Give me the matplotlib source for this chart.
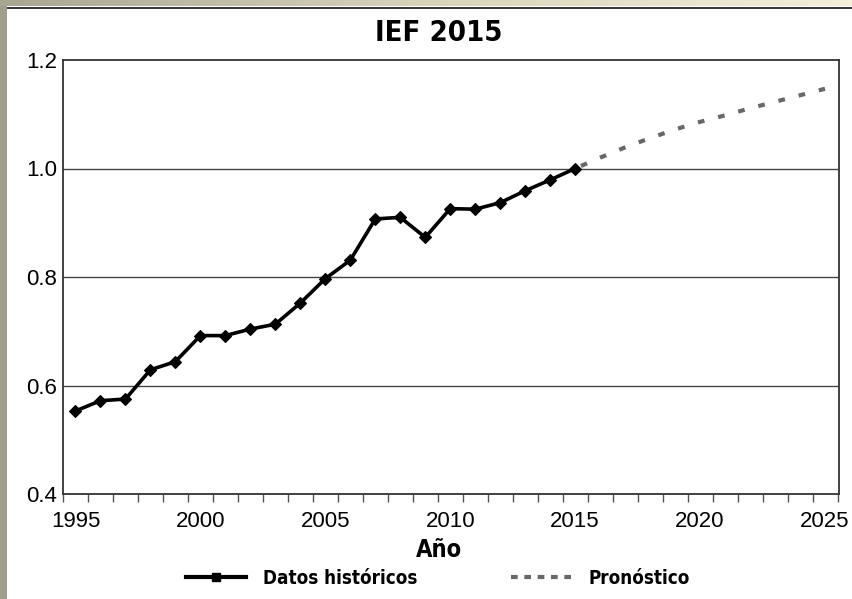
import numpy as np
import matplotlib
matplotlib.use('Agg')
import matplotlib.pyplot as plt
from matplotlib.lines import Line2D
from matplotlib.patches import Rectangle
from matplotlib import font_manager

# datos
years_hist = [1995, 1996, 1997, 1998, 1999, 2000, 2001, 2002, 2003, 2004, 2005,
              2006, 2007, 2008, 2009, 2010, 2011, 2012, 2013, 2014, 2015]
ief_hist = [0.553, 0.572, 0.575, 0.629, 0.644, 0.692, 0.692, 0.704, 0.713, 0.752, 0.797,
            0.831, 0.907, 0.910, 0.873, 0.926, 0.925, 0.937, 0.959, 0.979, 1.000]
years_fc = [2015, 2016, 2017, 2018, 2019, 2020, 2021, 2022, 2023, 2024, 2025]
ief_fc = [1.000, 1.020, 1.039, 1.056, 1.072, 1.086, 1.098, 1.111, 1.123, 1.135, 1.147]
year_labels = [1995, 2000, 2005, 2010, 2015, 2020, 2025]
y_ticks = [0.4, 0.6, 0.8, 1.0, 1.2]

plt.rcParams['font.family'] = ['Liberation Sans', 'DejaVu Sans']
# letra estrecha en negrita para titulo, eje y leyenda
narrow = font_manager.FontProperties(family='DejaVu Sans', stretch='condensed', weight='bold')

W, H = 852, 599
fig = plt.figure(figsize=(W / 100, H / 100), dpi=100, facecolor='white')

# marco de la captura (borde gris a la izquierda y arriba)
fig.patches.append(Rectangle((0, 0), 7 / W, 1, transform=fig.transFigure,
                             facecolor='#a19e8b', edgecolor='none', zorder=-5))
top = fig.add_axes([0, 1 - 6 / H, 1, 6 / H], zorder=-4)
grad = np.linspace(0, 1, 256).reshape(1, -1)
top.imshow(grad, aspect='auto', extent=[0, 1, 0, 1],
           cmap=matplotlib.colors.LinearSegmentedColormap.from_list('m', ['#a8a592', '#d8d4bc', '#f3efd8']))
top.axis('off')
fig.patches.append(Rectangle((7 / W, 1 - 8.5 / H), 1, 2 / H, transform=fig.transFigure,
                             facecolor='#3a3a3a', edgecolor='none', zorder=-3))

ax = fig.add_axes([63 / W, 1 - 494 / H, 776 / W, 434 / H])
ax.plot(years_hist, ief_hist, color='black', lw=2.6, marker='D', ms=6.3,
        markeredgewidth=0.8, zorder=3, solid_joinstyle='miter')
ax.plot(years_fc, ief_fc, color='#686868', lw=3, linestyle=(3.5, (1.6, 3.4)), zorder=2)

ax.set_xlim(1994.52, 2025.56)
ax.set_ylim(0.4, 1.2)
ax.set_yticks(y_ticks)
ax.set_yticklabels([f'{v:.1f}' for v in y_ticks])
ax.set_xticks(year_labels)
ax.set_xticklabels([str(y) for y in year_labels])
ax.set_xticks(np.arange(1994.5, 2025.6, 1.0), minor=True)
ax.tick_params(axis='x', which='major', length=0, pad=12, labelsize=16)
ax.tick_params(axis='x', which='minor', length=6, width=1, color='#555555', direction='out')
ax.tick_params(axis='y', length=0, pad=4, labelsize=16)

for v in [0.6, 0.8, 1.0]:
    ax.axhline(v, color='#444444', lw=1, zorder=1)
for s in ax.spines.values():
    s.set_color('#333333')
    s.set_linewidth(1.3)

fig.text(439 / W, 1 - 33 / H, 'IEF 2015', ha='center', va='center',
         fontproperties=narrow, fontsize=21)
fig.text(439 / W, 1 - 550 / H, 'Año', ha='center', va='center',
         fontproperties=narrow, fontsize=17)

handles = [Line2D([], [], color='black', lw=3, marker='s', ms=6),
           Line2D([], [], color='#686868', lw=3, linestyle=(0, (1.6, 1.6)))]
legend_font = font_manager.FontProperties(family='DejaVu Sans', stretch='condensed',
                                          weight='bold', size=13.5)
fig.legend(handles, ['Datos históricos', 'Pronóstico'], loc='center',
           bbox_to_anchor=(438 / W, 1 - 578 / H), ncol=2, frameon=False,
           handlelength=3.2, handletextpad=0.9, columnspacing=5.0,
           prop=legend_font)

fig.savefig('out.png', dpi=100, facecolor=fig.get_facecolor())
